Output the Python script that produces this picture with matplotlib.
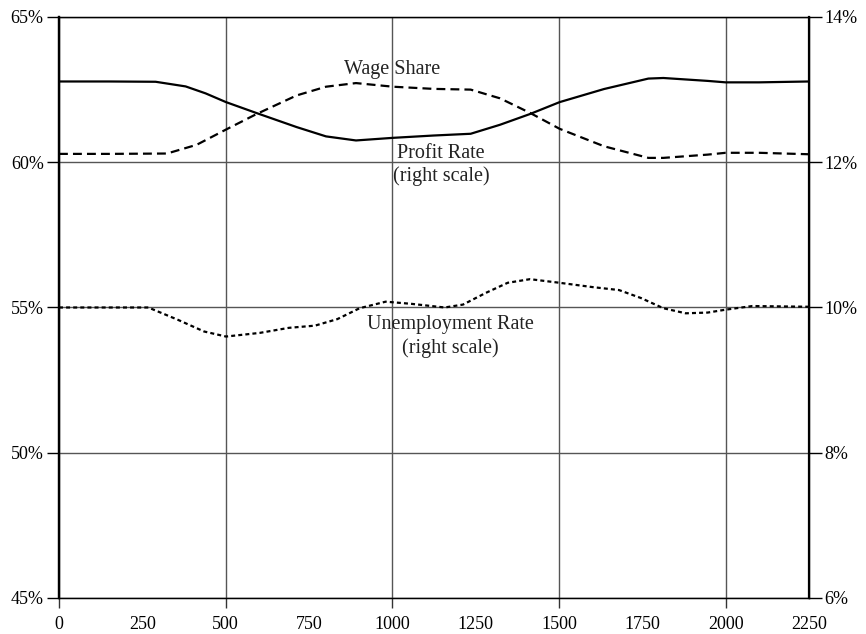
import numpy as np
import matplotlib
matplotlib.use('Agg')
import matplotlib.pyplot as plt

plt.rcParams['font.family'] = ['Liberation Serif', 'DejaVu Serif']

# wage share (left scale, %)
wage_x = [0, 150, 290, 380, 440, 501, 591, 713, 801, 891, 1002, 1124, 1235, 1323, 1413, 1502, 1635, 1768, 1813, 1946, 2000, 2100, 2250]
wage_y = [62.78, 62.78, 62.77, 62.61, 62.37, 62.07, 61.7, 61.21, 60.89, 60.75, 60.84, 60.92, 60.98, 61.29, 61.66, 62.07, 62.52, 62.88, 62.9, 62.8, 62.75, 62.75, 62.78]

# profit rate (right scale, %)
profit_x = [0, 150, 324, 413, 501, 591, 713, 801, 891, 1002, 1124, 1235, 1323, 1413, 1502, 1635, 1768, 1813, 1946, 2000, 2100, 2250]
profit_y = [12.115, 12.115, 12.12, 12.24, 12.45, 12.66, 12.92, 13.04, 13.09, 13.04, 13.01, 13.0, 12.88, 12.68, 12.46, 12.22, 12.06, 12.06, 12.105, 12.13, 12.13, 12.11]

# unemployment rate (right scale, %)
unemp_x = [0, 150, 268, 357, 435, 501, 602, 690, 768, 835, 902, 980, 1058, 1157, 1212, 1280, 1346, 1413, 1502, 1602, 1680, 1746, 1813, 1880, 1946, 2000, 2080, 2250]
unemp_y = [10.0, 10.0, 10.0, 9.83, 9.67, 9.6, 9.65, 9.72, 9.75, 9.84, 9.99, 10.08, 10.05, 10.0, 10.04, 10.2, 10.34, 10.39, 10.34, 10.28, 10.24, 10.13, 9.99, 9.92, 9.93, 9.97, 10.02, 10.01]

left_ticks = [45, 50, 55, 60, 65]
right_ticks = [6, 8, 10, 12, 14]
x_major = [0, 500, 1000, 1500, 2000]
x_minor = [250, 750, 1250, 1750, 2250]

fig = plt.figure(figsize=(8.66, 6.34), dpi=100)
ax = fig.add_axes([0.0681, 0.0568, 0.8661, 0.9164])
ax2 = ax.twinx()

ax.set_xlim(0, 2250)
ax.set_ylim(45, 65)
ax2.set_ylim(6, 14)

ax.set_yticks(left_ticks, [f'{v}%' for v in left_ticks])
ax2.set_yticks(right_ticks, [f'{v}%' for v in right_ticks])
ax.set_xticks(x_major, [str(v) for v in x_major])
ax.set_xticks(x_minor, [str(v) for v in x_minor], minor=True)

ax.grid(True, which='major', color='#555555', lw=1.0)
ax.tick_params(axis='x', which='major', direction='out', length=7, width=1, color='#333333', labelsize=13, pad=6)
ax.tick_params(axis='x', which='minor', length=0, labelsize=13, pad=13)
ax.tick_params(axis='y', direction='out', length=9, width=1, labelsize=13, pad=2)
ax2.tick_params(axis='y', direction='out', length=9, width=1, labelsize=13, pad=2)

for sp in ax.spines.values():
    sp.set_linewidth(1.0)
for name in ['left', 'right']:
    ax2.spines[name].set_linewidth(1.6)
ax.spines['left'].set_linewidth(1.6)

ax.plot(wage_x, wage_y, color='black', lw=1.6, solid_joinstyle='round')
ax2.plot(profit_x, profit_y, color='black', lw=1.6, dashes=(4.0, 2.3))
ax2.plot(unemp_x, unemp_y, color='black', lw=1.6, dashes=(1.8, 1.4))

ax.text(1000, 63.2, 'Wage Share', ha='center', va='center', fontsize=14.5, color='#222222')
ax.text(1146, 59.9, 'Profit Rate\n(right scale)', ha='center', va='center', fontsize=14.5, color='#222222', linespacing=1.25)
ax.text(1173, 54.0, 'Unemployment Rate\n(right scale)', ha='center', va='center', fontsize=14.5, color='#222222', linespacing=1.25)

fig.savefig('out.png', dpi=100)
